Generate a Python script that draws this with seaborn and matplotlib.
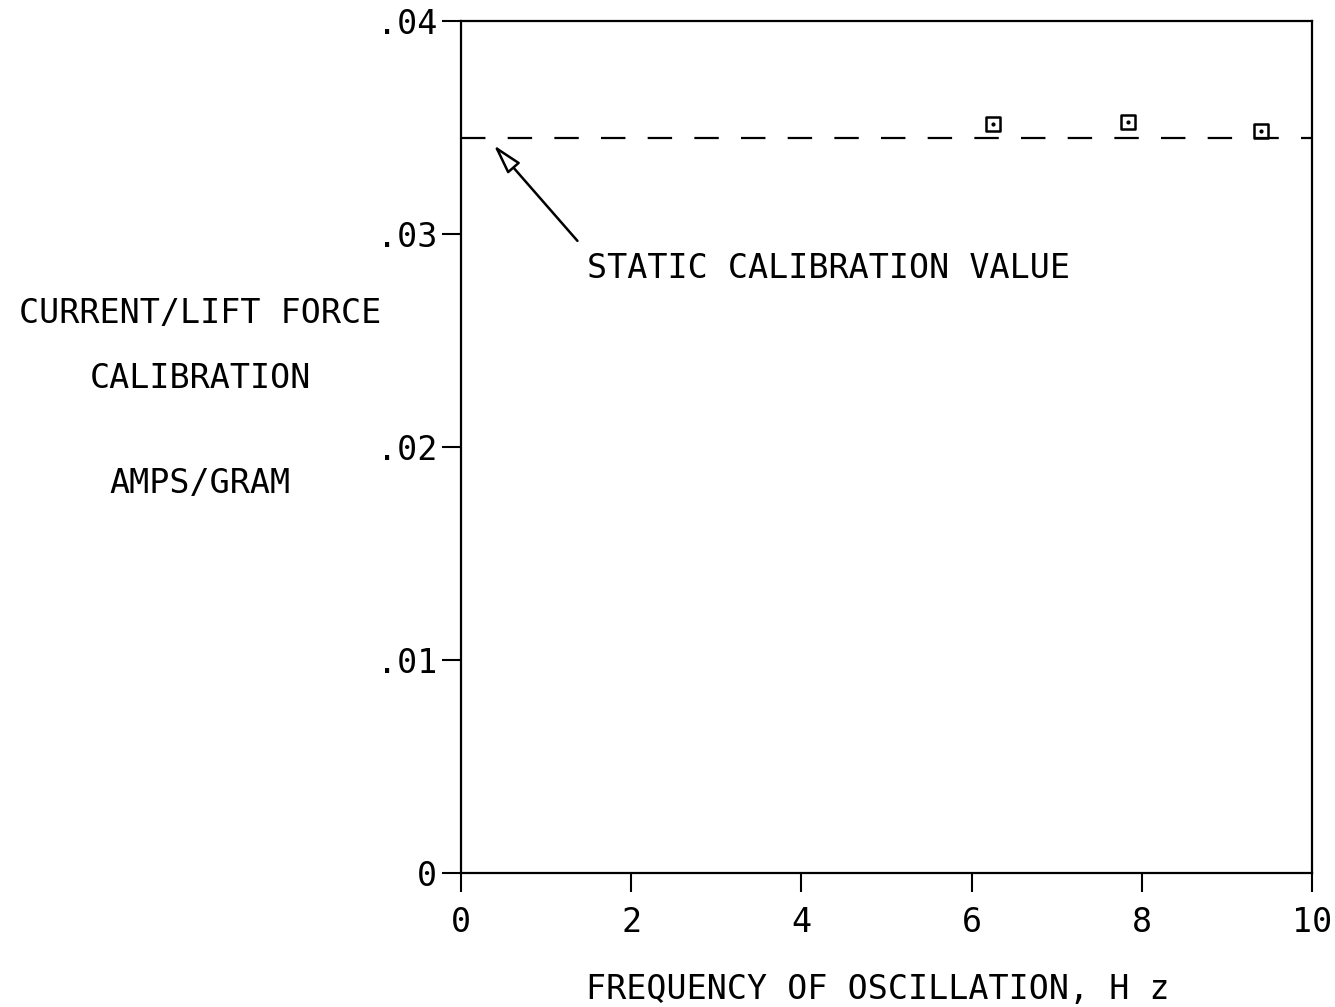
import matplotlib
matplotlib.use("Agg")
import matplotlib.pyplot as plt
import seaborn as sns
import pandas as pd

freq = [6.25, 7.84, 9.40]
calib = [0.03517, 0.03526, 0.03484]
static_value = 0.0345
x_ticks = [0, 2, 4, 6, 8, 10]
y_ticks = [0, 0.01, 0.02, 0.03, 0.04]
y_tick_labels = ["0", ".01", ".02", ".03", ".04"]

sns.set_style("white")
plt.rcParams['font.family'] = ['DejaVu Sans Mono', 'DejaVu Sans']
plt.rcParams['text.color'] = 'black'
plt.rcParams['xtick.color'] = 'black'
plt.rcParams['ytick.color'] = 'black'

FS = 24

fig = plt.figure(figsize=(13.35, 10.07), dpi=100)
ax = fig.add_axes([0.3453, 0.1331, 0.6375, 0.846])

df = pd.DataFrame({"f": freq, "c": calib})
ax.axhline(static_value, color="black", lw=1.6, dashes=(11, 10))
sns.scatterplot(data=df, x="f", y="c", ax=ax, marker="s", s=110,
                facecolor="none", edgecolor="black", linewidth=1.8, zorder=3)
ax.scatter(freq, calib, s=4, color="black", zorder=4)

ax.annotate("", xy=(0.365, 0.03427), xytext=(1.39, 0.02958),
            arrowprops=dict(arrowstyle="-|>,head_length=1.8,head_width=0.5",
                            fc="white", ec="black", lw=1.8))
ax.text(1.48, 0.02839, "STATIC CALIBRATION VALUE", fontsize=FS,
        va="center", ha="left")

ax.set_xlim(0, 10)
ax.set_ylim(0, 0.04)
ax.set_xticks(x_ticks)
ax.set_xticklabels([str(t) for t in x_ticks])
ax.set_yticks(y_ticks)
ax.set_yticklabels(y_tick_labels)
ax.tick_params(axis="both", direction="out", length=14, width=1.5,
               labelsize=FS, color="black", labelcolor="black",
               bottom=True, left=True, top=False, right=False)
ax.tick_params(axis="x", pad=10)
ax.tick_params(axis="y", pad=3)
ax.set_xlabel("")
ax.set_ylabel("")
for sp in ax.spines.values():
    sp.set_color("black")
    sp.set_linewidth(1.6)

fig.text(0.150, 1 - 313 / 1007, "CURRENT/LIFT FORCE", fontsize=FS, ha="center", va="center")
fig.text(0.150, 1 - 378 / 1007, "CALIBRATION", fontsize=FS, ha="center", va="center")
fig.text(0.150, 1 - 484 / 1007, "AMPS/GRAM", fontsize=FS, ha="center", va="center")
fig.text(878 / 1335, 1 - 990 / 1007, "FREQUENCY OF OSCILLATION, H z", fontsize=FS,
         ha="center", va="center")

fig.savefig("out.png", dpi=100)
